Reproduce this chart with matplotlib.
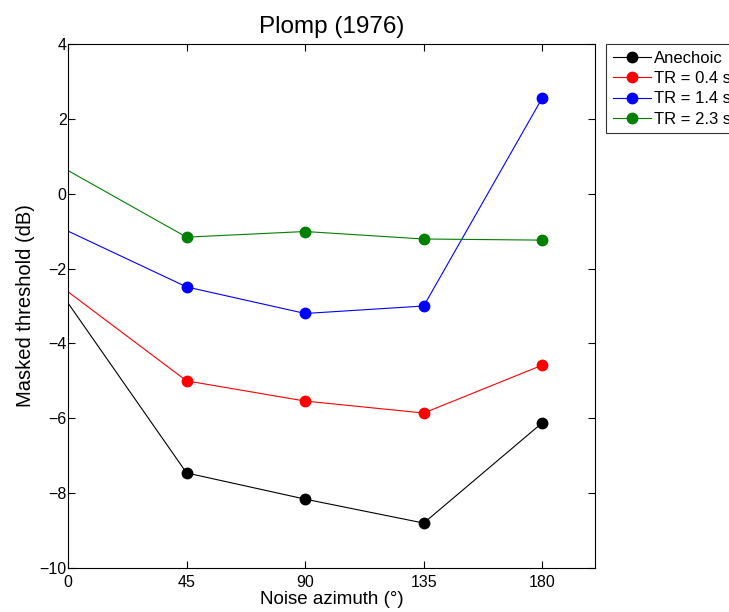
import numpy as np
from matplotlib import pyplot as plt

plt.rcParams['font.family'] = ['Liberation Sans', 'DejaVu Sans']

azimuth = [0, 45, 90, 135, 180]
anechoic = [-2.92, -7.46, -8.16, -8.8, -6.12]
tr_04 = [-2.62, -5.0, -5.54, -5.86, -4.58]
tr_14 = [-1.0, -2.49, -3.2, -3.0, 2.56]
tr_23 = [0.62, -1.16, -1.01, -1.21, -1.24]

labels = ['Anechoic', 'TR = 0.4 s', 'TR = 1.4 s', 'TR = 2.3 s']
colors = ['black', 'red', 'blue', 'green']
series = [anechoic, tr_04, tr_14, tr_23]

fig = plt.figure(figsize=(7.29, 6.12), dpi=100)
ax = fig.add_axes([68/729, 44/612, 527/729, 524/612])

for y, c, lab in zip(series, colors, labels):
    # no marker drawn at 0 in the original
    ax.plot(azimuth, y, color=c, lw=0.8, marker='o', ms=7.5,
            markevery=[1, 2, 3, 4], label=lab)

ax.set_xlim(0, 200)
ax.set_ylim(-10, 4)
ax.set_xticks([0, 45, 90, 135, 180])
ax.set_yticks(np.arange(-10, 5, 2))
ax.set_yticklabels(['\u221210', '\u22128', '\u22126', '\u22124', '\u22122', '0', '2', '4'])
ax.tick_params(direction='in', top=True, right=True, labelsize=11.5, length=5)
ax.tick_params(axis='x', pad=5)
ax.tick_params(axis='y', pad=1)
for s in ax.spines.values():
    s.set_linewidth(0.8)

ax.set_xlabel('Noise azimuth (\u00b0)', fontsize=13.5, labelpad=1)
ax.set_ylabel('Masked threshold (dB)', fontsize=14.5, labelpad=3)
ax.set_title('Plomp (1976)', fontsize=17.5, pad=8)

leg = fig.legend(loc='upper left', bbox_to_anchor=(606/729, 568/612),
                 fontsize=12, frameon=True, fancybox=False, edgecolor='black',
                 borderpad=0.4, labelspacing=0.32, handlelength=2.3,
                 handletextpad=0.2, borderaxespad=0)
leg.get_frame().set_linewidth(0.8)

fig.savefig('out.png', dpi=100)
